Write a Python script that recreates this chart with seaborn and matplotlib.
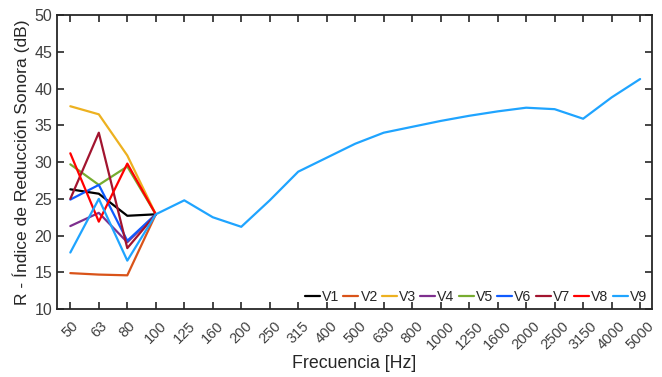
import pandas as pd
import numpy as np
import seaborn as sns
import matplotlib.pyplot as plt

# Frequency bands (Hz), shown as categories
freqs = ['50', '63', '80', '100', '125', '160', '200', '250', '315', '400', '500',
         '630', '800', '1000', '1250', '1600', '2000', '2500', '3150', '4000', '5000']

# R values (dB)
v1 = [26.3, 25.7, 22.7, 22.9]
v2 = [14.9, 14.7, 14.6, 22.9]
v3 = [37.6, 36.5, 30.9, 22.9]
v4 = [21.3, 23.1, 19.1, 22.9]
v5 = [29.7, 26.9, 29.4, 22.9]
v6 = [24.9, 26.9, 19.3, 22.9]
v7 = [25.0, 34.0, 18.3, 22.9]
v8 = [31.2, 21.9, 29.8, 22.9]
v9 = [17.7, 25.0, 16.6, 22.9, 24.8, 22.5, 21.2, 24.8, 28.7, 30.6, 32.5,
      34.0, 34.8, 35.6, 36.3, 36.9, 37.4, 37.2, 35.9, 38.8, 41.3]

series = {'V1': v1, 'V2': v2, 'V3': v3, 'V4': v4, 'V5': v5,
          'V6': v6, 'V7': v7, 'V8': v8, 'V9': v9}
colors = ['#000000', '#D95319', '#EDB120', '#7E2F8E', '#77AC30',
          '#0F5BFF', '#A2142F', '#FF0000', '#1FA4FF']

rows = []
for name, vals in series.items():
    for i, v in enumerate(vals):
        rows.append({'pos': i, 'R': v, 'serie': name})
df = pd.DataFrame(rows)

sns.set_style("ticks")
plt.rcParams['font.family'] = ['Liberation Sans', 'DejaVu Sans']

fig = plt.figure(figsize=(6.62, 3.77), dpi=100)
ax = fig.add_axes([0.086, 0.180, 0.899, 0.780])

sns.lineplot(data=df, x='pos', y='R', hue='serie', palette=colors,
             sort=False, linewidth=1.6, ax=ax, legend=True)

ax.set_xlim(-0.47, 20.42)
ax.set_ylim(10, 50)
ax.set_xticks(range(len(freqs)))
ax.set_xticklabels(freqs, rotation=45, ha='center', fontsize=10.5, color='#404040')
ax.set_yticks(np.arange(10, 51, 5))
ax.tick_params(axis='y', labelsize=11.5, colors='#404040')
ax.tick_params(direction='in', top=True, right=True, length=5, width=1.2,
               color='#262626')
ax.tick_params(axis='x', pad=7)
for s in ax.spines.values():
    s.set_visible(True)
    s.set_linewidth(1.3)
    s.set_color('#262626')

ax.set_xlabel('Frecuencia [Hz]', fontsize=12.8, color='#262626', labelpad=2)
ax.set_ylabel('R - Índice de Reducción Sonora (dB)', fontsize=12.6, color='#262626',
              labelpad=3)

ax.legend(loc='lower right', ncol=9, frameon=False, fontsize=10.2,
          handlelength=1.05, handletextpad=0.15, columnspacing=0.3,
          borderaxespad=0.05, borderpad=0.3, bbox_to_anchor=(1.0, 0.0))

plt.savefig('out.png', dpi=100)
